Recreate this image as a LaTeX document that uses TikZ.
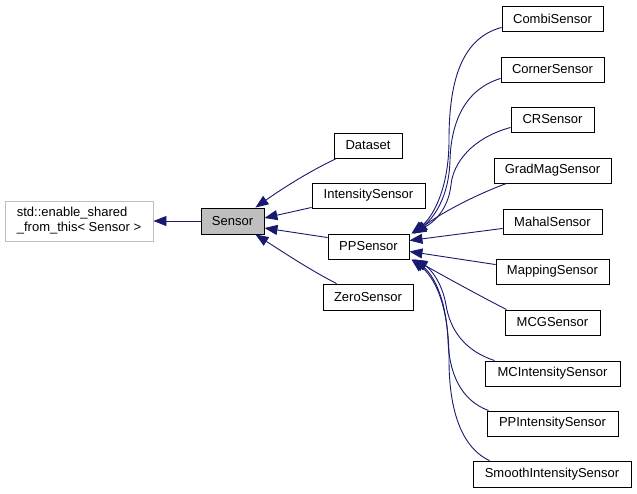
\documentclass[tikz,border=0pt]{standalone}
\usepackage{fontspec}
\setmainfont{Liberation Sans}
\usetikzlibrary{arrows.meta}
\definecolor{edgeblue}{HTML}{191970}
\definecolor{boxgray}{HTML}{BFBFBF}
\begin{document}
\begin{tikzpicture}[x=1pt,y=-1pt,
  cls/.style={draw=black,line width=0.9pt,fill=white,inner sep=0pt,minimum height=25pt,font=\fontsize{13}{15}\selectfont},
  inh/.style={draw=edgeblue,line width=0.9pt,-{Triangle[length=13pt,width=10pt]}}]
\useasboundingbox[fill=white] (0,0) rectangle (637,493);
% nodes
\node[cls,draw=boxgray,minimum width=148pt,minimum height=40pt,align=left] (std) at (79,221) {std::enable\_shared\\\_from\_this< Sensor >};
\node[cls,fill=boxgray,minimum width=63pt,minimum height=26pt] (sensor) at (232.5,221) {Sensor};
\node[cls,minimum width=68pt] (dataset) at (368,145.5) {Dataset};
\node[cls,minimum width=113pt] (intensity) at (368.5,195.5) {IntensitySensor};
\node[cls,minimum width=81pt] (pp) at (368.5,246.5) {PPSensor};
\node[cls,minimum width=90pt,minimum height=26pt] (zero) at (368,297) {ZeroSensor};
\node[cls,minimum width=101pt] (combi) at (552.5,18.5) {CombiSensor};
\node[cls,minimum width=103pt] (corner) at (552.5,69.5) {CornerSensor};
\node[cls,minimum width=83pt] (cr) at (552.5,119.5) {CRSensor};
\node[cls,minimum width=117pt] (gradmag) at (552.5,170.5) {GradMagSensor};
\node[cls,minimum width=99pt] (mahal) at (552.5,221.5) {MahalSensor};
\node[cls,minimum width=113pt] (mapping) at (552.5,271.5) {MappingSensor};
\node[cls,minimum width=95pt] (mcg) at (552.5,322.5) {MCGSensor};
\node[cls,minimum width=135pt] (mcint) at (552.5,373.5) {MCIntensitySensor};
\node[cls,minimum width=131pt] (ppint) at (552.5,423.5) {PPIntensitySensor};
\node[cls,minimum width=158pt,minimum height=26pt] (smooth) at (552,474) {SmoothIntensitySensor};
% edges to std
\draw[inh] (sensor.west) -- (std.east);
% edges to Sensor
\draw[inh] ([xshift=3pt]dataset.south west) .. controls (310,171) and (283,188) .. ([xshift=-9pt]sensor.north east);
\draw[inh] ([yshift=1pt]intensity.south west) -- ([yshift=3pt]sensor.east);
\draw[inh] ([yshift=-4pt]pp.north west) -- ([yshift=-7pt]sensor.east);
\draw[inh] ([xshift=14pt]zero.north west) .. controls (310,270) and (283,252) .. ([xshift=-9pt]sensor.south east);
% edges to PPSensor (top)
\draw[inh] ([yshift=4pt]combi.south west) .. controls (462,38) and (449,80) .. (449,140) .. controls (449,190) and (432,218) .. ([xshift=2pt]pp.north east);
\draw[inh] ([yshift=4pt]corner.south west) .. controls (463,90) and (451,125) .. (450,160) .. controls (449,198) and (433,219) .. ([xshift=3pt]pp.north east);
\draw[inh] ([yshift=5pt]cr.south west) .. controls (472,138) and (453,163) .. (451,185) .. controls (448,210) and (434,222) .. ([xshift=4pt]pp.north east);
\draw[inh] ([xshift=13pt]gradmag.south west) .. controls (480,193) and (442,212) .. ([xshift=5pt]pp.north east);
\draw[inh] ([yshift=6pt]mahal.south west) -- ([yshift=6pt]pp.east);
% edges to PPSensor (bottom)
\draw[inh] ([yshift=-6pt]mapping.north west) -- ([yshift=-5pt]pp.east);
\draw[inh] ([xshift=2pt]mcg.north west) .. controls (480,296) and (440,274) .. ([xshift=5pt]pp.south east);
\draw[inh] ([xshift=10pt]mcint.north west) .. controls (465,351) and (450,330) .. (446,305) .. controls (442,282) and (430,268) .. ([xshift=4pt]pp.south east);
\draw[inh] ([xshift=2pt]ppint.north west) .. controls (460,400) and (449,372) .. (448,340) .. controls (446,296) and (432,273) .. ([xshift=3pt]pp.south east);
\draw[inh] ([xshift=17pt]smooth.north west) .. controls (458,446) and (449,402) .. (449,360) .. controls (449,302) and (433,276) .. ([xshift=2pt]pp.south east);
\end{tikzpicture}
\end{document}
